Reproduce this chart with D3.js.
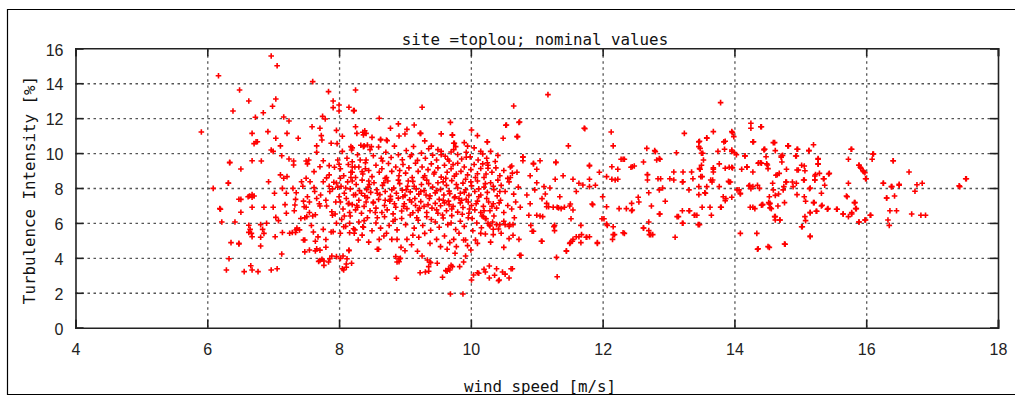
<!DOCTYPE html>
<html>
<head>
<meta charset="utf-8">
<script src="https://cdn.jsdelivr.net/npm/d3@7"></script>
<style>
  html, body { margin: 0; padding: 0; background: #fff; }
  svg { display: block; }
</style>
</head>
<body>
<svg id="chart" width="1015" height="396"></svg>
<script>
// ---------------- DATA ----------------
const chartTitle = "site =toplou; nominal values";
const xTitle = "wind speed [m/s]";
const yTitle = "Turbulence Intensity [%]";
const xTicks = [4, 6, 8, 10, 12, 14, 16, 18];
const yTicks = [0, 2, 4, 6, 8, 10, 12, 14, 16];

// [wind speed (m/s), turbulence intensity (%)]
const lowWindPoints = [
[6.97,15.56],[7.06,15.0],[6.17,14.43],[7.6,14.09],[6.49,13.61],[7.84,13.52],[7.04,13.1],[6.63,12.98],[7.91,12.98],[6.99,12.68],[7.91,12.6],[6.39,12.41],[6.85,12.31],[6.73,12.05],[7.16,12.07],[7.24,11.84],[7.75,12.1],[7.79,11.95],[5.91,11.21],[6.68,11.13],[6.92,11.23],[7.21,11.13],[7.59,11.51],[7.71,11.42],[7.96,11.3],[7.04,10.85],[7.38,10.85],[7.73,11.0],[7.74,10.75],[6.71,10.54],[6.74,10.65],[6.76,10.65],[7.11,10.41],[7.66,10.41],[7.88,10.56],[7.97,10.54],[6.97,10.18],[7.0,10.1],[7.66,10.05],[6.34,9.47],[6.51,9.09],[6.68,9.56],[6.82,9.55],[7.13,9.85],[7.24,9.66],[7.31,9.55],[7.31,9.32],[7.5,9.55],[7.54,9.6],[7.52,9.38],[7.62,8.94],[7.76,9.56],[7.71,9.22],[7.85,9.28],[7.93,9.19],[7.98,9.6],[6.32,8.29],[6.93,8.36],[7.11,8.75],[7.16,8.56],[7.21,8.65],[7.43,8.36],[7.5,8.56],[7.56,8.36],[7.76,8.36],[7.81,8.58],[7.85,8.75],[7.92,8.33],[7.96,8.29],[6.09,7.98],[7.14,7.98],[7.3,7.98],
[6.51,7.35],[6.64,7.54],[6.68,7.62],[6.71,7.54],[6.68,7.47],[7.02,7.7],[7.2,7.7],[7.35,7.73],[7.34,7.35],[6.2,6.78],[6.51,6.61],[6.68,6.9],[6.86,6.9],[7.0,6.9],[7.18,7.05],[7.04,6.32],[7.08,6.13],[7.2,6.55],[7.33,7.03],[7.32,6.7],[7.46,7.25],[7.5,6.9],[7.48,6.3],[7.55,6.6],[7.6,6.4],[7.52,7.5],[7.63,7.8],[7.66,7.4],[7.72,7.6],[7.7,7.1],[7.8,7.3],[7.86,7.8],[7.85,8.1],[7.9,7.95],[6.22,6.05],[6.42,6.05],[6.63,5.87],[6.65,5.63],[6.63,5.46],[6.67,5.4],[6.68,5.21],[6.81,5.9],[6.84,5.63],[6.86,5.4],[6.81,5.18],[6.9,5.98],[7.03,5.21],[7.14,5.45],[7.29,5.45],[7.34,5.45],[7.36,5.7],[7.4,5.6],[7.48,5.02],[7.64,4.95],[6.36,4.87],[6.48,4.79],[6.81,4.68],[7.13,4.22],[7.48,4.34],[7.55,4.45],[7.64,4.4],[7.71,4.44],[7.8,4.61],[6.33,3.95],[7.69,3.8],[7.71,3.85],[7.77,3.82],[7.86,3.95],[6.29,3.3],[6.56,3.21],[6.66,3.55],[6.68,3.3],[6.77,3.21],[6.97,3.3],[7.06,3.38],[6.19,6.82],[6.48,4.83],[7.25,5.41],[7.35,5.6],[7.46,5.02],[7.66,4.52],[7.74,3.92],[7.77,3.57],[7.84,3.76],[7.89,4.11],[7.47,6.93],[7.51,6.36],[7.64,6.47],[7.71,6.97],[7.81,6.97],[7.9,6.44],[7.76,5.63],[7.88,5.48],[7.61,5.48],[7.91,5.5],[7.96,5.98],[7.89,6.64],[7.94,6.51],[7.96,4.07],[6.32,8.27],[6.34,9.45],[6.48,7.36],[6.62,7.5],[7.62,8.02],[7.45,8.1],[7.55,7.2],[7.42,6.25],[7.58,5.85],[7.68,5.2],[7.8,5.05],[7.95,7.2],[7.98,8.05]
];

const coreWindPoints = [
[8.0,12.75],[8.0,12.41],[8.22,12.43],[8.25,13.61],[8.15,12.62],[8.23,12.43],[8.36,11.19],[8.05,10.96],[8.25,11.51],[8.27,11.13],[8.18,10.37],[8.19,10.18],[8.37,10.37],[8.0,9.36],[8.2,9.5],[8.2,9.2],[8.24,9.2],[8.2,8.9],[8.35,8.94],[8.4,9.1],[8.02,8.56],[8.0,7.5],[8.15,7.12],[8.25,7.62],[8.02,5.41],[8.07,5.78],[8.16,5.98],[8.23,5.41],[8.36,5.78],[8.02,3.97],[8.06,4.11],[8.15,4.45],[8.07,3.3],[8.11,3.46],[8.19,3.69],
[8.61,11.99],[8.78,11.42],[8.9,11.67],[9.14,11.61],[8.91,10.98],[9.0,11.09],[9.24,11.13],[9.69,11.76],[9.72,11.04],[9.75,10.56],[9.77,10.37],[10.01,11.32],[10.25,10.65],[10.49,10.85],[10.54,11.61],[10.73,11.76],[10.7,10.94],[8.39,11.28],[8.37,11.04],[8.41,11.13],[8.43,10.46],[8.49,10.37],[8.38,10.41],[8.63,10.75],[8.72,10.75],[10.79,9.79],[10.79,9.56],[10.95,9.41],[10.25,9.45],[10.26,9.13],[10.6,9.2],[10.7,8.9],[10.6,8.6],[9.5,10.2],[9.55,9.9],
[9.26,12.62],[10.65,12.7],[10.41,9.87],[10.18,9.38],[9.93,9.76],[9.73,9.34],[9.7,10.06],[9.74,10.56],[9.72,11.02],[9.23,11.13],[9.03,11.36],[8.73,10.71],[8.63,10.79],[10.62,9.26],
[8.87,2.83],[9.69,1.93],[9.88,1.93],[9.57,2.89],[9.64,3.23],[9.68,3.3],[9.72,3.5],[9.23,3.15],[9.36,3.23],[9.39,3.72],[10.01,2.73],[10.04,3.02],[10.1,3.15],[10.2,3.34],[10.28,3.53],[10.39,3.38],[10.43,2.73],[10.52,3.07],[10.63,3.38],[10.74,4.15],[8.91,3.78],[8.93,3.97],[8.86,4.07],[8.6,4.49],[9.31,3.19],[9.36,3.5],[9.38,3.76],[9.49,3.69],[9.62,3.27],[9.66,3.38],[9.7,3.57],[9.76,4.26],[9.83,3.5],[9.89,3.76],[9.92,4.11],[10.12,3.12],[10.22,3.19],[10.28,2.85],[10.36,3.0],[10.42,2.69],[10.48,3.19],[10.58,2.85],[10.61,3.38],
[8.05,3.38],[8.11,3.65],[8.15,4.41],[8.12,3.95],[8.29,5.02],[8.16,5.44],[8.22,5.67],[8.38,6.13],[8.61,5.06],[8.58,4.49],[8.72,5.41],[8.8,5.06],[8.88,5.06],[8.94,4.6],[8.91,3.95],[8.88,3.76],[9.0,4.41],[9.03,5.06],[9.12,5.29],[9.21,5.18],[9.19,4.38],[9.26,4.11],[9.34,3.88],[9.38,4.83],[9.48,5.06],[9.54,4.64],[9.64,4.49],[9.68,4.87],[9.74,5.06],[9.78,4.64],[9.82,5.41],[9.89,5.02],[9.92,5.02],[10.0,4.45],[10.07,5.02],[10.1,4.83],
[10.19,6.36],[10.22,5.37],[10.34,5.33],[10.46,5.41],[10.64,5.29],[10.73,5.06],[10.76,4.15],[10.88,6.44],[10.91,5.86],[10.95,5.52],[10.23,6.24],[10.26,5.98],[10.29,5.83],[10.34,5.64],[10.39,5.9],[10.44,5.9],[10.52,5.9],[10.59,5.9],[10.64,5.9],
[8.05,10.1],[8.12,9.7],[8.2,10.3],[8.28,9.9],[8.33,10.45],[8.41,9.6],[8.47,10.2],[8.52,9.85],[8.6,10.35],[8.66,9.55],[8.71,10.05],[8.79,9.75],[8.84,10.4],[8.9,9.9],[8.96,9.62],[9.02,10.15],[9.08,9.8],[9.13,10.38],[9.19,9.58],[9.25,10.0],[9.31,9.7],[9.36,10.25],[9.42,9.88],[9.48,9.6],[9.55,10.1],[9.61,9.82],[9.67,9.55],[9.74,10.2],[9.8,9.92],[9.86,9.66],[9.93,10.05],[9.99,9.78],[10.05,10.3],[10.11,9.6],[10.18,9.95],[10.24,9.7],[10.3,10.1],[10.37,9.52],
[8.02,9.1],[8.07,8.7],[8.14,9.35],[8.18,8.9],[8.25,8.6],[8.3,9.2],[8.36,8.8],[8.4,9.45],[8.45,9.0],[8.5,8.65],[8.56,9.3],[8.61,8.9],[8.65,9.1],[8.7,8.55],[8.75,9.4],[8.8,8.95],[8.86,9.2],[8.91,8.7],[8.97,9.35],[9.01,8.85],[9.06,9.15],[9.11,8.6],[9.16,9.42],[9.2,8.95],[9.26,9.2],[9.3,8.7],[9.35,9.05],[9.4,9.38],[9.44,8.8],[9.5,9.15],[9.55,8.62],[9.6,9.3],[9.64,8.9],[9.7,9.1],[9.75,8.68],[9.8,9.42],[9.85,8.95],[9.9,9.2],[9.95,8.75],[10.0,9.05],[10.05,9.35],[10.1,8.82],[10.15,9.12],[10.2,8.6],[10.26,9.3],[10.32,8.9],[10.38,9.15],[10.44,8.7],[10.5,9.0],[10.56,8.55],[10.63,8.85],
[8.03,8.1],[8.08,7.7],[8.13,8.35],[8.17,7.95],[8.22,7.6],[8.26,8.2],[8.31,7.85],[8.35,8.45],[8.39,7.55],[8.44,8.05],[8.48,7.75],[8.53,8.3],[8.57,7.9],[8.62,7.62],[8.66,8.15],[8.7,7.8],[8.74,8.4],[8.78,7.52],[8.83,8.0],[8.87,7.7],[8.92,8.25],[8.96,7.88],[9.0,7.58],[9.04,8.1],[9.08,7.78],[9.12,8.38],[9.17,7.95],[9.21,7.65],[9.25,8.2],[9.29,7.85],[9.33,8.45],[9.38,7.55],[9.42,8.05],[9.46,7.72],[9.5,8.3],[9.54,7.92],[9.59,7.6],[9.63,8.15],[9.67,7.82],[9.71,8.42],[9.76,7.5],[9.8,8.0],[9.84,7.7],[9.88,8.28],[9.92,7.9],[9.97,7.58],[10.01,8.12],[10.06,7.8],[10.1,8.4],[10.15,7.6],[10.2,8.05],[10.25,7.75],[10.3,8.3],[10.35,7.9],[10.4,7.55],[10.46,8.15],[10.52,7.8],[10.58,8.35],[10.65,7.65],[10.72,8.05],
[8.1,8.0],[8.2,8.4],[8.34,7.7],[8.46,8.2],[8.58,7.7],[8.68,8.3],[8.8,7.9],[8.9,8.45],[9.02,7.9],[9.14,8.1],[9.24,7.8],[9.36,8.25],[9.48,7.85],[9.58,8.35],[9.68,7.68],[9.78,8.2],[9.9,7.75],[10.0,8.35],[10.12,7.95],[10.22,8.25],[10.34,8.1],[10.44,7.8],
[8.02,7.2],[8.06,6.8],[8.11,7.4],[8.16,6.6],[8.2,7.05],[8.25,6.75],[8.3,7.3],[8.34,6.55],[8.38,6.95],[8.43,7.45],[8.47,6.7],[8.52,7.15],[8.56,6.85],[8.6,7.35],[8.65,6.6],[8.69,7.0],[8.73,6.75],[8.77,7.25],[8.82,6.52],[8.86,6.9],[8.9,7.42],[8.95,6.68],[8.99,7.1],[9.03,6.82],[9.07,7.32],[9.12,6.58],[9.16,7.0],[9.2,6.72],[9.24,7.22],[9.29,6.95],[9.33,6.6],[9.37,7.4],[9.41,6.85],[9.46,7.12],[9.5,6.55],[9.54,6.98],[9.58,7.3],[9.63,6.7],[9.67,7.05],[9.71,6.8],[9.75,7.45],[9.8,6.62],[9.84,7.15],[9.88,6.88],[9.93,7.35],[9.97,6.55],[10.01,7.0],[10.06,6.75],[10.1,7.25],[10.15,6.6],[10.19,6.95],[10.24,7.4],[10.29,6.7],[10.34,7.1],[10.39,6.85],[10.45,7.3],[10.5,6.6],[10.56,7.0],[10.62,6.8],[10.68,7.2],[10.75,6.9],
[8.14,7.1],[8.28,6.9],[8.41,7.2],[8.55,6.6],[8.7,7.3],[8.84,7.1],[8.98,6.95],[9.1,7.2],[9.22,6.85],[9.35,7.05],[9.48,6.75],[9.6,7.15],[9.73,6.95],[9.86,7.3],[9.98,6.8],[10.08,7.1],[10.2,6.7],[10.32,6.95],[10.43,7.15],
[8.04,6.2],[8.1,5.8],[8.17,6.4],[8.24,5.6],[8.3,6.05],[8.37,5.75],[8.43,6.3],[8.5,5.55],[8.56,6.0],[8.63,5.7],[8.69,6.35],[8.76,5.85],[8.82,6.1],[8.88,5.6],[8.95,6.25],[9.01,5.9],[9.08,6.45],[9.14,5.7],[9.2,6.15],[9.27,5.85],[9.33,6.35],[9.39,5.58],[9.46,6.05],[9.52,5.75],[9.58,6.28],[9.65,5.9],[9.71,6.42],[9.77,5.62],[9.84,6.1],[9.9,5.8],[9.96,6.3],[10.03,5.55],[10.09,6.0],[10.16,5.72],[10.22,6.25],[10.28,5.88],[10.35,6.4],[10.42,5.65],[10.5,6.1],[10.58,5.8],[10.66,6.3],
[8.35,5.3],[8.45,4.9],[8.68,5.25],[9.1,4.75],[9.3,5.4],[9.6,5.25],[9.95,4.7],[10.15,5.4],[10.3,4.9],[10.5,4.6],[10.58,5.1],
[8.5,10.9],[9.3,10.7],[9.55,11.1],[9.9,10.6],[10.1,11.0],
[9.05,8.4],[9.15,7.4],[9.18,6.3],[9.28,8.6],[9.32,7.6],[9.4,6.2],[9.45,8.9],[9.52,7.35],[9.57,6.45],[9.62,8.55],[9.66,7.25],[9.7,6.0],[9.78,8.8],[9.82,7.4],[9.87,6.5],[9.92,8.5],[9.96,7.2],[10.02,6.25],[10.07,8.6],[10.12,7.5],[10.17,6.4],[10.23,8.8],[10.27,7.2],[10.33,6.05],[10.41,8.45],[9.1,9.9],[9.4,10.4],[9.65,9.65],[9.95,10.4],[10.15,10.1],
[8.32,9.6],[8.45,8.4],[8.52,7.2],[8.58,6.3],[8.64,9.7],[8.72,8.6],[8.78,7.35],[8.85,6.2],[8.92,9.0],[8.97,7.5],[8.42,7.9],[8.27,7.0],[8.18,8.6],[8.08,6.4]
];

const midWindPoints = [
[11.17,13.35],[11.72,11.42],[12.13,11.21],[12.16,10.41],[11.48,10.41],[11.05,9.56],[10.95,9.38],[11.0,9.07],[11.29,9.49],[11.8,9.3],[12.28,9.65],[12.33,9.65],[12.23,9.07],[12.43,9.19],[12.48,9.26],[12.62,9.49],[12.67,10.27],[12.8,10.08],[12.82,9.6],[12.87,9.65],[12.68,8.77],[12.68,8.46],[12.7,7.73],[12.84,8.53],[12.88,8.53],[12.86,7.89],[12.14,8.5],[12.19,8.46],[12.23,8.5],[11.55,8.5],[11.64,8.27],[11.7,8.17],[11.8,8.5],[11.8,8.08],[11.89,8.16],[11.85,7.05],[11.28,8.5],[10.97,7.89],[11.11,8.08],[11.13,7.66],[11.08,7.39],[11.15,7.12],[11.18,6.93],[11.25,6.9],[11.31,6.9],[11.37,6.82],[11.42,6.9],[11.51,7.08],[11.55,6.74],[11.0,6.44],[11.09,6.36],[11.52,6.24],[11.67,5.86],[11.92,4.87],[11.8,5.21],[11.75,5.18],[11.67,4.87],[11.51,4.87],[11.55,5.06],[11.6,5.21],[11.45,4.41],[11.08,4.95],[11.26,5.78],[11.27,5.56],[10.93,5.52],[11.99,6.24],[12.07,5.86],[12.16,5.78],[12.18,5.33],[12.15,5.06],[12.33,5.4],[12.62,5.71],[12.7,5.56],[12.71,5.33],[12.76,5.33],[12.25,6.82],[12.44,6.7],[12.54,7.47],[12.55,7.2],[12.74,6.97],[12.87,6.51],
[11.05,6.4],[11.15,6.93],[11.33,6.86],[11.5,6.97],[11.84,7.08],[11.07,4.95],[11.27,5.86],[11.3,4.03],[11.31,2.92],[11.45,4.38],[11.5,4.83],[11.54,4.95],[11.64,5.21],[11.68,5.33],[11.76,5.18],[11.92,4.83],[12.02,6.24],[12.06,5.94],[12.16,5.33],[12.31,5.44],[12.45,6.74],[12.62,5.71],[12.73,5.33],[12.86,6.51],[12.06,6.93],[12.36,6.82],[12.44,7.12],[12.7,6.05],[12.95,7.24],
[10.53,11.59],[10.74,11.78],[11.73,11.4],[10.71,10.94],[10.25,10.64],[11.29,9.45],[11.8,9.26],[10.79,9.76],[12.06,8.65],[12.14,9.22],[12.31,9.65],[12.45,9.22],[12.79,10.14],[12.86,9.68],[12.68,8.76],[12.91,8.0],
[10.9,8.7],[11.0,8.3],[10.85,7.6],[11.2,8.0],[11.4,8.7],[11.35,7.5],[10.9,7.1],[11.6,7.8],[12.0,7.5],[11.95,8.9]
];

const highWindPoints = [
[13.79,12.89],[13.24,11.13],[13.68,11.23],[13.58,10.85],[13.46,10.64],[13.84,10.64],[13.96,11.23],[13.99,10.94],[14.25,11.71],[14.25,11.42],[14.4,11.51],[14.29,10.65],[13.12,10.02],[13.48,10.27],[13.5,9.99],[13.53,9.6],[13.48,9.07],[13.49,8.65],[13.68,9.07],[13.77,9.38],[13.86,9.13],[13.96,9.19],[13.96,10.18],[14.0,10.02],[14.16,9.83],[14.46,10.22],[14.11,9.07],[14.19,9.19],[14.37,9.45],[14.41,9.42],[14.51,9.11],[13.02,8.53],[13.08,8.92],[13.22,8.92],[13.08,8.46],[13.22,8.36],[13.37,8.53],[13.1,5.18],[13.13,6.36],[13.21,6.7],[13.22,5.98],[13.31,6.7],[13.4,6.44],[13.43,6.44],[13.47,5.9],[13.51,6.9],[13.63,6.9],[13.65,6.44],[13.8,6.9],[13.56,7.7],[13.58,8.08],[13.67,8.46],[13.77,8.08],[13.91,8.38],[13.83,7.5],[13.87,7.39],[13.96,7.47],[14.04,7.89],[14.09,7.7],[14.22,8.12],[14.25,7.96],[14.38,7.98],[14.28,6.9],[14.41,7.01],[14.54,7.12],[14.09,5.4],[14.34,5.4],[14.36,4.52],[14.51,4.64],
[14.41,11.51],[14.59,10.6],[14.62,10.14],[14.45,10.22],[14.81,10.41],[14.95,10.22],[15.13,10.14],[15.2,10.48],[14.93,9.83],[14.73,9.87],[14.71,9.76],[15.77,10.22],[15.73,9.65],[16.1,9.95],[16.09,9.65],[16.41,9.56],[15.27,9.68],[15.27,9.37],[15.89,9.3],[15.91,9.19],[15.95,8.99],[15.98,8.88],[16.0,8.53],[16.65,8.92],[17.51,8.53],[17.42,8.08],[16.77,8.19],[16.85,8.27],[16.74,7.81],[16.5,8.16],[16.39,8.08],[16.26,8.27],[16.31,7.43],[16.43,7.54],[16.36,6.7],[16.46,6.7],[16.33,6.17],[16.35,5.86],[16.69,6.51],[16.83,6.44],[16.9,6.44],[15.73,8.27],[15.7,7.54],[15.82,7.16],[15.84,6.82],[15.78,6.59],[15.73,6.36],[15.65,6.51],[15.56,6.78],[15.42,6.82],[15.33,7.01],[15.2,7.16],[15.25,6.67],[15.15,6.59],[15.07,6.36],[15.02,5.78],[15.15,5.25],[14.76,4.79],[14.53,4.6],[14.62,6.36],[14.62,6.17],[14.69,6.17],[15.98,6.17],[15.89,6.05],[16.06,6.44],[15.29,8.84],[15.35,8.53],[15.37,8.16],[15.32,7.7],[15.43,8.8],[15.22,8.46],[15.23,8.77],[15.15,8.0],[15.05,8.46],[15.06,7.5],[14.95,9.03],[14.95,7.62],[14.89,8.08],[14.78,8.34],[14.75,8.08],[14.74,7.89],[14.67,7.66],[14.62,7.58],[14.59,7.89],[14.53,7.5],[14.53,7.08],[14.54,6.86],[14.43,7.05],[14.63,8.73],[14.68,8.84],[14.79,9.07],[14.5,9.32],[14.4,9.45],[14.48,9.79],[14.72,9.49],[15.02,9.3],[15.07,8.99],
[13.58,10.87],[13.47,10.68],[13.46,10.37],[13.52,9.99],[13.5,9.3],[13.47,9.11],[13.51,8.65],[13.35,8.92],[13.21,8.34],[13.31,7.89],[13.46,8.08],[13.46,7.62],[13.55,7.73],[13.64,8.46],[13.66,8.34],[13.68,9.15],[13.68,8.92],[13.75,10.1],[13.85,10.22],[13.86,10.68],[13.92,9.19],[13.92,8.34],[13.96,10.1],[13.97,11.17],[14.03,9.91],[13.97,9.15],
[14.16,9.84],[14.19,9.22],[14.28,10.64],[14.28,8.92],[14.36,9.42],[14.45,10.18],[14.49,9.38],[14.61,10.6],[14.71,9.83],[14.82,10.41],[14.94,9.83],[14.96,10.22],[14.97,9.03],[15.06,9.26],[15.13,10.14],[15.27,9.65],[15.27,9.38],[15.36,8.53],[15.44,8.84],[15.22,8.69],[15.22,8.46],[15.14,7.96],[15.06,8.46],[14.94,8.27],[14.88,8.34],[14.79,8.34],[14.65,8.76],[14.58,8.27],[14.28,8.08],[14.23,8.16],[14.35,8.16],[14.07,7.89],[14.09,7.66],[13.94,8.34],
[15.78,10.22],[15.89,9.3],[15.92,9.13],[15.96,8.93],[15.99,8.53],[15.71,7.5],[16.11,9.95],
[13.15,6.36],[13.32,6.7],[13.39,6.44],[13.45,5.9],[13.21,5.98],[13.79,6.9],[13.86,7.27],[14.24,6.9],[14.31,6.82],[14.42,7.05],[14.52,7.16],[14.56,6.82],[14.61,6.36],[14.69,6.17],[14.66,6.97],[14.76,7.16],[15.08,7.24],[15.15,6.59],[15.21,7.16],[15.24,6.67],[15.32,6.97],[15.41,6.78],[15.55,6.78],[15.65,6.51],[15.78,6.51],[15.83,7.16],[15.85,6.82],[15.89,6.05],[15.99,6.17],[16.07,6.44],[15.03,5.78],[15.08,6.13],[15.15,5.21],[14.77,4.78],[14.35,4.49],
[17.41,8.12],[17.52,8.53],[16.38,8.08],[16.5,8.21],[16.26,8.27],[16.41,9.56],[16.31,7.43]
];

// ---------------- LAYOUT ----------------
const W = 1015, H = 396;
const plot = { left: 75.5, right: 998, top: 48.3, bottom: 327.7 };

const svg = d3.select("#chart");
svg.append("rect").attr("width", W).attr("height", H).attr("fill", "#fff");

const x = d3.scaleLinear().domain([4, 18]).range([plot.left, plot.right]);
const y = d3.scaleLinear().domain([0, 16]).range([plot.bottom, plot.top]);
const pw = plot.right - plot.left, ph = plot.bottom - plot.top;

const monoFont = "'DejaVu Sans Mono', 'Liberation Mono', monospace";
const tickFont = "'Liberation Sans', Arial, sans-serif";

// grid (dotted)
const gridX = svg.append("g").attr("transform", `translate(0,${plot.bottom})`)
  .call(d3.axisBottom(x).tickValues(xTicks.filter(t => t > 4 && t < 18)).tickSize(-ph).tickFormat(""));
const gridY = svg.append("g").attr("transform", `translate(${plot.left},0)`)
  .call(d3.axisLeft(y).tickValues(yTicks.filter(t => t > 0 && t < 16)).tickSize(-pw).tickFormat(""));
[gridX, gridY].forEach(g => {
  g.select(".domain").remove();
  g.selectAll(".tick line").attr("stroke", "#555").attr("stroke-width", 1.3)
    .attr("stroke-dasharray", "2.5,3.5");
});

// points
const allPoints = [].concat(lowWindPoints, coreWindPoints, midWindPoints, highWindPoints);
svg.append("g").selectAll("path").data(allPoints).join("path")
  .attr("transform", d => `translate(${x(d[0])},${y(d[1])})`)
  .attr("d", "M-2.8,0H2.8M0,-2.8V2.8")
  .attr("stroke", "#ff0000").attr("stroke-width", 1.6).attr("fill", "none");

// axes with inward ticks on all four sides
const tickLen = 8;
const axB = svg.append("g").attr("transform", `translate(0,${plot.bottom})`)
  .call(d3.axisBottom(x).tickValues(xTicks).tickSize(-tickLen).tickPadding(16).tickFormat(d3.format("d")));
const axL = svg.append("g").attr("transform", `translate(${plot.left},0)`)
  .call(d3.axisLeft(y).tickValues(yTicks).tickSize(-tickLen).tickPadding(12).tickFormat(d3.format("d")));
const axT = svg.append("g").attr("transform", `translate(0,${plot.top})`)
  .call(d3.axisTop(x).tickValues(xTicks).tickSize(-tickLen).tickFormat(""));
const axR = svg.append("g").attr("transform", `translate(${plot.right},0)`)
  .call(d3.axisRight(y).tickValues(yTicks).tickSize(-tickLen).tickFormat(""));
[axB, axL, axT, axR].forEach(g => {
  g.select(".domain").attr("stroke", "#222").attr("stroke-width", 1.6);
  g.selectAll(".tick line").attr("stroke", "#222").attr("stroke-width", 1.6);
  g.selectAll(".tick text").attr("fill", "#222").style("font-family", tickFont).style("font-size", "16px");
});
axL.selectAll(".tick text").attr("dy", "0.42em");

// titles
svg.append("text").attr("x", 535).attr("y", 45).attr("text-anchor", "middle")
  .style("font-family", monoFont).style("font-size", "15.8px").attr("fill", "#111")
  .text(chartTitle);
svg.append("text").attr("x", 540).attr("y", 392).attr("text-anchor", "middle")
  .style("font-family", monoFont).style("font-size", "15.8px").attr("fill", "#111")
  .text(xTitle);
svg.append("text").attr("transform", "translate(29,190) rotate(-90)").attr("text-anchor", "middle")
  .attr("dy", "0.35em")
  .style("font-family", monoFont).style("font-size", "15.8px").attr("fill", "#111")
  .text(yTitle);

// outer frame (left, top, bottom)
svg.append("path").attr("d", `M${W},9.5H7.5V394.5H${W}`)
  .attr("fill", "none").attr("stroke", "#000").attr("stroke-width", 1.2);
</script>
</body>
</html>
